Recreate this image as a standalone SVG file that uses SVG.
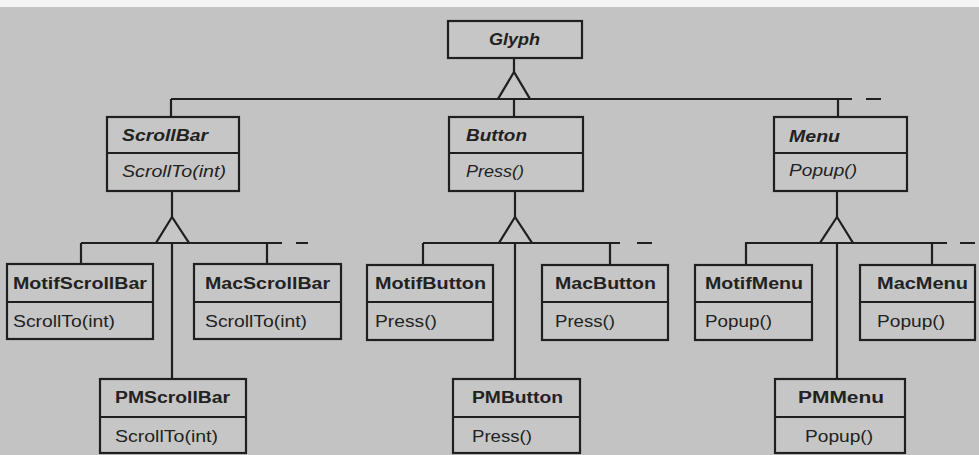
<svg xmlns="http://www.w3.org/2000/svg" width="979" height="455" viewBox="0 0 979 455">
<style>
.box{fill:#c6c6c6;stroke:#1f1f1f;stroke-width:2.2}
.ln{fill:none;stroke:#1f1f1f;stroke-width:2.2}
.tri{fill:#c6c6c6;stroke:#1f1f1f;stroke-width:2.2;stroke-linejoin:miter}
text{font-family:"Liberation Sans",Arial,sans-serif;font-size:16px;fill:#222}
.n{font-weight:bold}
.a{font-weight:bold;font-style:italic}
.i{font-style:italic}
</style>
<rect x="0" y="0" width="979" height="455" fill="#c3c3c3"/>
<rect x="0" y="0" width="979" height="7" fill="#f4f4f4"/>
<g id="connectors">
<path class="ln" d="M514 58V72M171 99H852M866 99H881M171 99V117M514 99V117M838 99V117"/>
<polygon class="tri" points="514,72 498,99 530,99"/>
<path class="ln" d="M172 191V217M81 243H282M296 243H308M81 243V264M267 243V264M172 243V379"/>
<polygon class="tri" points="172,217 156,243 189,243"/>
<path class="ln" d="M515 191V217M423 243H620M637 243H652M423 243V265M610 243V265M515 243V379"/>
<polygon class="tri" points="515,217 499,243 532,243"/>
<path class="ln" d="M837 191V217M745 243H947M960 243H975M746 243V265M932 243V265M837 243V379"/>
<polygon class="tri" points="837,217 820,243 853,243"/>
</g>
<g id="Glyph">
<rect class="box" x="448" y="21" width="134" height="37"/>
<text class="a" x="489" y="45" textLength="51" lengthAdjust="spacingAndGlyphs">Glyph</text>
</g>
<g id="ScrollBar">
<rect class="box" x="107" y="117" width="132" height="74"/>
<path class="ln" d="M107 153H239"/>
<text class="a" x="122" y="141" textLength="86" lengthAdjust="spacingAndGlyphs">ScrollBar</text>
<text class="i" x="122" y="177" textLength="104" lengthAdjust="spacingAndGlyphs">ScrollTo(int)</text>
</g>
<g id="Button">
<rect class="box" x="449" y="117" width="134" height="74"/>
<path class="ln" d="M449 153H583"/>
<text class="a" x="466" y="141" textLength="61" lengthAdjust="spacingAndGlyphs">Button</text>
<text class="i" x="466" y="177" textLength="58" lengthAdjust="spacingAndGlyphs">Press()</text>
</g>
<g id="Menu">
<rect class="box" x="774" y="117" width="133" height="74"/>
<path class="ln" d="M774 153H907"/>
<text class="a" x="789" y="142" textLength="51" lengthAdjust="spacingAndGlyphs">Menu</text>
<text class="i" x="789" y="176" textLength="68" lengthAdjust="spacingAndGlyphs">Popup()</text>
</g>
<g id="MotifScrollBar">
<rect class="box" x="7" y="264" width="146" height="75"/>
<path class="ln" d="M7 302H153"/>
<text class="n" x="13" y="289" textLength="134" lengthAdjust="spacingAndGlyphs">MotifScrollBar</text>
<text x="13" y="327" textLength="102" lengthAdjust="spacingAndGlyphs">ScrollTo(int)</text>
</g>
<g id="MacScrollBar">
<rect class="box" x="194" y="264" width="147" height="75"/>
<path class="ln" d="M194 302H341"/>
<text class="n" x="205" y="289" textLength="125" lengthAdjust="spacingAndGlyphs">MacScrollBar</text>
<text x="205" y="327" textLength="102" lengthAdjust="spacingAndGlyphs">ScrollTo(int)</text>
</g>
<g id="PMScrollBar">
<rect class="box" x="100" y="379" width="146" height="74"/>
<path class="ln" d="M100 417H246"/>
<text class="n" x="115" y="403" textLength="115" lengthAdjust="spacingAndGlyphs">PMScrollBar</text>
<text x="115" y="442" textLength="103" lengthAdjust="spacingAndGlyphs">ScrollTo(int)</text>
</g>
<g id="MotifButton">
<rect class="box" x="367" y="265" width="126" height="75"/>
<path class="ln" d="M367 302H493"/>
<text class="n" x="375" y="289" textLength="111" lengthAdjust="spacingAndGlyphs">MotifButton</text>
<text x="375" y="327" textLength="62" lengthAdjust="spacingAndGlyphs">Press()</text>
</g>
<g id="MacButton">
<rect class="box" x="542" y="265" width="126" height="75"/>
<path class="ln" d="M542 302H668"/>
<text class="n" x="555" y="289" textLength="101" lengthAdjust="spacingAndGlyphs">MacButton</text>
<text x="555" y="327" textLength="60" lengthAdjust="spacingAndGlyphs">Press()</text>
</g>
<g id="PMButton">
<rect class="box" x="453" y="379" width="127" height="74"/>
<path class="ln" d="M453 417H580"/>
<text class="n" x="472" y="403" textLength="91" lengthAdjust="spacingAndGlyphs">PMButton</text>
<text x="472" y="442" textLength="60" lengthAdjust="spacingAndGlyphs">Press()</text>
</g>
<g id="MotifMenu">
<rect class="box" x="695" y="265" width="117" height="75"/>
<path class="ln" d="M695 302H812"/>
<text class="n" x="705" y="289" textLength="98" lengthAdjust="spacingAndGlyphs">MotifMenu</text>
<text x="705" y="327" textLength="67" lengthAdjust="spacingAndGlyphs">Popup()</text>
</g>
<g id="MacMenu">
<rect class="box" x="860" y="265" width="115" height="75"/>
<path class="ln" d="M860 302H975"/>
<text class="n" x="877" y="289" textLength="91" lengthAdjust="spacingAndGlyphs">MacMenu</text>
<text x="877" y="327" textLength="68" lengthAdjust="spacingAndGlyphs">Popup()</text>
</g>
<g id="PMMenu">
<rect class="box" x="775" y="379" width="130" height="74"/>
<path class="ln" d="M775 417H905"/>
<text class="n" x="798" y="403" textLength="86" lengthAdjust="spacingAndGlyphs">PMMenu</text>
<text x="805" y="442" textLength="68" lengthAdjust="spacingAndGlyphs">Popup()</text>
</g>
</svg>
